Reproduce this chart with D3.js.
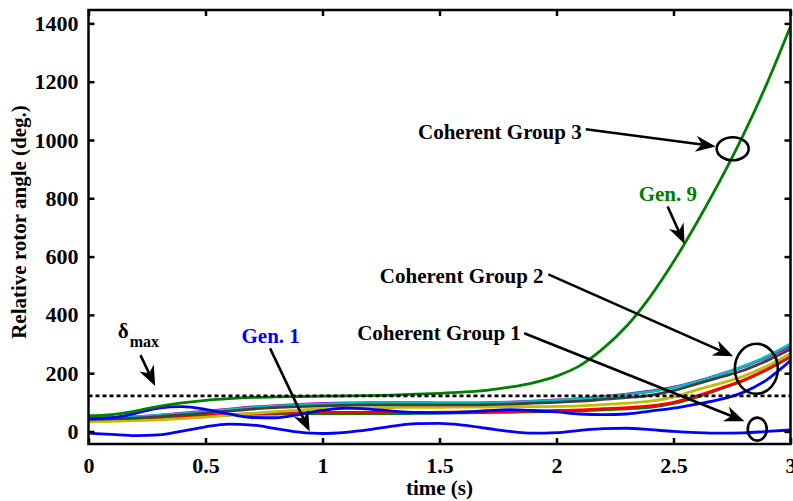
<!DOCTYPE html>
<html>
<head>
<meta charset="utf-8">
<script src="https://cdn.jsdelivr.net/npm/d3@7/dist/d3.min.js"></script>
<style>
  html, body { margin: 0; padding: 0; background: #fff; }
  svg { display: block; }
  text { font-family: "Liberation Serif", "Times New Roman", serif; font-weight: bold; }
</style>
</head>
<body>
<svg id="chart" width="793" height="501"></svg>
<script>
// Simulation time samples (s)
const time = [0.0,0.1,0.2,0.3,0.4,0.5,0.6,0.7,0.8,0.9,1.0,1.1,1.2,1.3,1.4,1.5,1.6,1.7,1.8,1.9,2.0,2.1,2.2,2.3,2.4,2.5,2.6,2.7,2.8,2.9,3.0];

// Relative rotor angles (deg.)
const gen1    = [-6,-10,-14,-12,1,16,25,22,10,-2,-7,-3,6,18,27,28,22,11,0,-6,-4,4,10,11,6,0,-4,-6,-5,0,5];
const gen9    = [54,58,70,86,98,107,113,117,119,120,121,122,123,125,128,131,135,141,152,167,190,226,285,362,462,582,717,862,1020,1195,1390];
const genGreen   = [48,48,49,51,53,55,57,59,60,61,61,61,61,61,62,63,64,65,66,67,69,71,74,78,83,96,118,146,175,212,256];
const genRed     = [40,41,43,46,50,54,58,61,63,64,65,65,65,65,65,66,67,68,69,70,72,74,78,82,88,100,122,148,176,214,258];
const genOlive   = [34,35,37,40,44,49,55,62,68,73,77,79,81,82,83,83,84,84,85,85,86,88,92,97,104,118,143,165,190,225,268];
const genMagenta = [45,46,50,56,63,70,77,84,89,93,96,98,99,99,99,98,98,99,101,104,108,113,120,128,138,152,172,196,222,255,293];
const genCyan    = [46,47,50,55,61,68,75,82,87,91,94,96,97,97,97,97,97,98,100,103,107,112,118,126,136,150,170,195,224,258,300];
const genGray    = [42,43,46,51,57,63,70,77,82,85,88,90,91,91,91,91,91,92,94,97,100,104,110,116,124,140,163,186,210,243,282];
const genBlue    = [43,47,62,80,85,76,60,48,47,58,72,80,77,70,65,64,66,71,75,72,67,60,58,60,70,80,94,110,135,178,243];

// Stability limit
const deltaMax = 122;

// Axis ticks
const xTicks = [0, 0.5, 1, 1.5, 2, 2.5, 3];
const xTickLabels = ["0", "0.5", "1", "1.5", "2", "2.5", "3"];
const yTicks = [0, 200, 400, 600, 800, 1000, 1200, 1400];

// Drawing order: coherent cluster first, then the two highlighted machines
const series = [
  { values: genGreen,   color: "#008000" },
  { values: genRed,     color: "#ff0000" },
  { values: genOlive,   color: "#bfbf00" },
  { values: genMagenta, color: "#bf00bf" },
  { values: genCyan,    color: "#00bfbf" },
  { values: genGray,    color: "#404040" },
  { values: genBlue,    color: "#0000ff" },
  { values: gen9,       color: "#008000" },
  { values: gen1,       color: "#0000ff" }
];

const svg = d3.select("#chart");
const x = d3.scaleLinear().domain([0, 3]).range([88.5, 790.5]);
const y = d3.scaleLinear().domain([-43, 1446]).range([444, 10]);

const plot = svg.append("g");
svg.append("clipPath").attr("id", "plotclip")
  .append("rect").attr("x", x(0)).attr("y", y(1446))
  .attr("width", x(3) - x(0)).attr("height", y(-43) - y(1446));

const line = d3.line()
  .x((d, i) => x(time[i]))
  .y(d => y(d))
  .curve(d3.curveMonotoneX);

const curves = plot.append("g").attr("clip-path", "url(#plotclip)");
series.forEach(s => {
  curves.append("path")
    .attr("d", line(s.values))
    .attr("fill", "none")
    .attr("stroke", s.color)
    .attr("stroke-width", 2.8)
    .attr("stroke-linejoin", "round");
});

// delta_max dotted line
curves.append("line")
  .attr("x1", x(0)).attr("x2", x(3))
  .attr("y1", y(deltaMax)).attr("y2", y(deltaMax))
  .attr("stroke", "#000").attr("stroke-width", 2.8)
  .attr("stroke-dasharray", "4,3");

// Axes box with inward ticks on all sides
const tickLen = 6;
const axes = svg.append("g");
const axisB = d3.axisBottom(x).tickValues(xTicks).tickSizeInner(-tickLen).tickSizeOuter(0)
  .tickFormat((d, i) => xTickLabels[i]).tickPadding(13);
const axisT = d3.axisTop(x).tickValues(xTicks).tickSizeInner(-tickLen).tickSizeOuter(0).tickFormat("");
const axisL = d3.axisLeft(y).tickValues(yTicks).tickSizeInner(-tickLen).tickSizeOuter(0)
  .tickFormat(d3.format("d")).tickPadding(10);
const axisR = d3.axisRight(y).tickValues(yTicks).tickSizeInner(-tickLen).tickSizeOuter(0).tickFormat("");

function styleAxis(g) {
  g.select(".domain").remove();
  g.selectAll(".tick line").attr("stroke", "#000").attr("stroke-width", 2.5);
  g.selectAll(".tick text").attr("fill", "#000").attr("font-size", 22)
    .attr("font-family", "Liberation Serif, Times New Roman, serif").attr("font-weight", "bold");
}
axes.append("g").attr("transform", `translate(0,${y(-43)})`).call(axisB).call(styleAxis);
axes.append("g").attr("transform", `translate(0,${y(1446)})`).call(axisT).call(styleAxis);
axes.append("g").attr("transform", `translate(${x(0)},0)`).call(axisL).call(styleAxis);
axes.append("g").attr("transform", `translate(${x(3)},0)`).call(axisR).call(styleAxis);

axes.append("rect")
  .attr("x", x(0)).attr("y", y(1446))
  .attr("width", x(3) - x(0)).attr("height", y(-43) - y(1446))
  .attr("fill", "none").attr("stroke", "#000").attr("stroke-width", 2.5);

// Axis titles
svg.append("text")
  .attr("x", (x(0) + x(3)) / 2).attr("y", 495)
  .attr("text-anchor", "middle").attr("font-size", 21).attr("fill", "#000")
  .text("time (s)");
svg.append("text")
  .attr("transform", `translate(26,${222}) rotate(-90)`)
  .attr("text-anchor", "middle").attr("font-size", 21).attr("fill", "#000")
  .text("Relative rotor angle (deg.)");

// Annotations (positions given in data coordinates)
const ann = svg.append("g");

function arrow(x0, y0, x1, y1) {
  const px0 = x(x0), py0 = y(y0), px1 = x(x1), py1 = y(y1);
  const ang = Math.atan2(py1 - py0, px1 - px0);
  const L = 20, W = 8, notch = 14;
  const bx = px1 - L * Math.cos(ang), by = py1 - L * Math.sin(ang);
  const nx = px1 - notch * Math.cos(ang), ny = py1 - notch * Math.sin(ang);
  ann.append("line")
    .attr("x1", px0).attr("y1", py0).attr("x2", nx).attr("y2", ny)
    .attr("stroke", "#000").attr("stroke-width", 2.6);
  const pts = [
    [px1, py1],
    [bx - W * Math.sin(ang), by + W * Math.cos(ang)],
    [nx, ny],
    [bx + W * Math.sin(ang), by - W * Math.cos(ang)]
  ];
  ann.append("path").attr("d", "M" + pts.map(p => p.join(",")).join("L") + "Z").attr("fill", "#000");
}

function ellipse(cx, cy, rx, ry) {
  ann.append("ellipse")
    .attr("cx", x(cx)).attr("cy", y(cy)).attr("rx", rx).attr("ry", ry)
    .attr("fill", "none").attr("stroke", "#000").attr("stroke-width", 2.6);
}

function label(tx, ty, text, color, anchor) {
  return ann.append("text")
    .attr("x", x(tx)).attr("y", y(ty))
    .attr("text-anchor", anchor || "start")
    .attr("font-size", 21).attr("fill", color || "#000")
    .text(text);
}

// Coherent Group 3
label(1.408, 1005, "Coherent Group 3");
arrow(2.125, 1037, 2.68, 978);
ellipse(2.753, 970, 16, 11.5);

// Gen. 9
label(2.351, 790, "Gen. 9", "#008000");
arrow(2.475, 772, 2.547, 643);

// Coherent Group 2
label(1.245, 510, "Coherent Group 2");
arrow(1.965, 539, 2.755, 258);
ellipse(2.854, 215, 21.5, 25);

// Coherent Group 1
label(1.148, 314, "Coherent Group 1");
arrow(1.862, 337, 2.803, 35);
ellipse(2.858, 8, 9.5, 11.5);

// Gen. 1
label(0.654, 302, "Gen. 1", "#0000ff");
arrow(0.776, 285, 0.945, 0);

// delta_max
const dm = label(0.125, 322, "δ");
dm.append("tspan").attr("dy", 9).attr("dx", 1).attr("font-size", 16).text("max");
arrow(0.222, 262, 0.285, 156);
</script>
</body>
</html>
